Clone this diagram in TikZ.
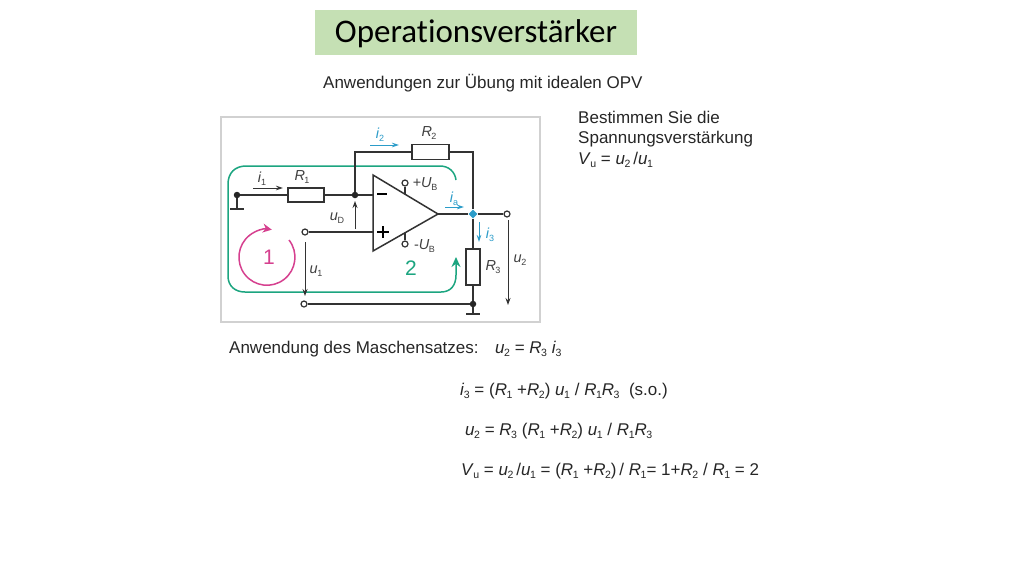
\documentclass[tikz,border=0pt]{standalone}
\usepackage{fontspec}
\setmainfont{Liberation Sans}
\newfontfamily\titlefont[Ligatures=NoCommon]{Carlito}
\usetikzlibrary{arrows.meta,shapes.geometric}
\definecolor{titlegreen}{HTML}{C5E0B4}
\definecolor{loopgreen}{HTML}{1CA580}
\definecolor{looppink}{HTML}{D6408F}
\definecolor{currblue}{HTML}{2B9CC9}
\definecolor{wiregray}{HTML}{333333}
\newcommand{\sym}[2]{\textit{#1}\kern-0.5pt\raisebox{-0.2em}{\scalebox{0.62}{#2}}}
\newcommand{\tight}{\spaceskip=0.28em\relax}
\tikzset{
	wire/.style={line width=1.5pt, draw=wiregray},
	dotnode/.style={circle, fill=black!85, inner sep=0pt, minimum size=6.5pt},
	opennode/.style={circle, draw=wiregray, fill=white, line width=1.2pt, inner sep=0pt, minimum size=6pt},
	resistor/.style={draw=wiregray, fill=white, line width=1.5pt, inner sep=0pt},
	volt/.style={line width=1pt, draw=wiregray, -{Stealth[length=7pt,width=5pt]}},
	curr/.style={line width=1pt, draw=wiregray, -{Stealth[length=7pt,width=4.5pt]}},
	bluecurr/.style={line width=1pt, draw=currblue, -{Stealth[length=7pt,width=4.5pt]}},
	lab/.style={inner sep=0pt, anchor=center, text=black!75, font=\fontsize{14.5}{16}\selectfont},
	bluelab/.style={lab, text=currblue},
	txt/.style={inner sep=0pt, anchor=base west, text=black!85, font=\fontsize{17}{20}\selectfont},
	eqn/.style={txt, execute at begin node=\tight}
}
\begin{document}
\begin{tikzpicture}[x=1pt,y=-1pt]
	\useasboundingbox (0,0) rectangle (1024,576);
	% title and panel
	\node[fill=titlegreen, minimum width=322pt, minimum height=45pt, inner sep=0pt] (title) at (476,32.5) {};
	\node[inner sep=0pt, anchor=base, font=\titlefont\fontsize{33}{38}\selectfont] (titletxt) at (476,42) {Operationsverstärker};
	\draw[draw=black!18, line width=2pt, fill=white] (221,117) rectangle (540,322);
	\node[txt] (sub) at (323,88) {Anwendungen zur Übung mit idealen OPV};
	\node[txt] (task1) at (578,123) {Bestimmen Sie die};
	\node[txt] (task2) at (578,143) {Spannungsverstärkung};
	\node[eqn] (task3) at (578,164) {\sym{V}{u} = \sym{u}{2}\,/\sym{u}{1}};

	% green mesh
	\draw[loopgreen, line width=1.5pt, -{Stealth[length=10pt,width=9pt]}] (456,180) .. controls (455,172) and (449,166) .. (440,166) -- (246,166) .. controls (235,166) and (228,173) .. (228,184) -- (228,276) .. controls (228,286) and (235,292) .. (245,292) -- (441,292) .. controls (451,292) and (456,285) .. (456,275) -- (456,257);

	% op amp
	\coordinate (optop) at (373,175);
	\coordinate (opbot) at (373,251);
	\coordinate (optip) at (438,214);
	\coordinate (ubpstem) at (405,194);
	\coordinate (ubmstem) at (405,233);
	\coordinate (inm) at (373,195);
	\coordinate (inp) at (373,232);
	\draw[wire, line join=miter] (optop) -- (optip) -- (opbot) -- cycle;
	\node[opennode] (ubp) at (405,183) {};
	\node[opennode] (ubm) at (405,244) {};
	\draw[wire] (ubp) -- (ubpstem);
	\draw[wire] (ubm) -- (ubmstem);
	\draw[line width=1.5pt] (377,194) -- (387,194);
	\draw[line width=1.5pt] (377,232) -- (389,232) (383,226) -- (383,238);

	% nodes
	\node[dotnode] (gl) at (237,195) {};
	\node[dotnode] (jm) at (355,195) {};
	\node[dotnode, fill=currblue, shape=diamond, minimum size=9pt] (jo) at (473,214) {};
	\node[dotnode] (jb) at (473,304) {};
	\node[opennode] (out) at (507,214) {};
	\node[opennode] (inpt) at (305,232) {};
	\node[opennode] (inb) at (304,304) {};
	\node[resistor, minimum width=36pt, minimum height=14pt] (r1) at (306,195) {};
	\node[resistor, minimum width=37pt, minimum height=15pt] (r2) at (430.5,152) {};
	\node[resistor, minimum width=14pt, minimum height=36pt] (r3) at (473,267) {};
	\coordinate (gbl) at (237,209);
	\coordinate (gbr) at (473,314);
	\coordinate (fbl) at (355,152);
	\coordinate (fbr) at (473,152);

	% wires
	\draw[wire] (gl) -- (r1);
	\draw[wire] (r1) -- (jm);
	\draw[wire] (jm) -- (inm);
	\draw[wire] (jm) -- (fbl) -- (r2);
	\draw[wire] (r2) -- (fbr) -- (jo);
	\draw[wire] (optip) -- (jo);
	\draw[wire] (jo) -- (out);
	\draw[wire] (jo) -- (r3);
	\draw[wire] (r3) -- (jb);
	\draw[wire] (inpt) -- (inp);
	\draw[wire] (inb) -- (jb);
	\draw[wire] (gl) -- (gbl);
	\draw[wire] (jb) -- (gbr);
	\draw[wire] (230,209) -- (244,209);
	\draw[wire] (466,314) -- (480,314);

	% arrows
	\draw[curr] (253,188) -- (283,188);
	\draw[bluecurr] (370,145) -- (399,145);
	\draw[bluecurr] (445,207) -- (464,207);
	\draw[bluecurr] (479,222) -- (479,242);
	\draw[volt] (355,229) -- (355,201);
	\draw[volt] (305,242) -- (305,296);
	\draw[volt] (508,220) -- (508,305);

	% pink mesh
	\draw[looppink, line width=1.5pt, -{Stealth[length=9pt,width=9pt]}] (289,240) arc[start angle=38, end angle=-280, radius=28pt];

	% labels
	\node[lab] (li1) at (262,179) {\sym{i}{1}};
	\node[lab] (lr1) at (302,177) {\sym{R}{1}};
	\node[lab] (lr2) at (429,133) {\sym{R}{2}};
	\node[lab] (lr3) at (493,267) {\sym{R}{3}};
	\node[bluelab] (li2) at (380,135) {\sym{i}{2}};
	\node[bluelab] (lia) at (454,199) {\sym{i}{a}};
	\node[bluelab] (li3) at (490,235) {\sym{i}{3}};
	\node[lab] (lud) at (337,218) {\sym{u}{D}};
	\node[lab] (lu1) at (316,271) {\sym{u}{1}};
	\node[lab] (lu2) at (520,260) {\sym{u}{2}};
	\node[lab] (lubp) at (425,184) {+\sym{U}{B}};
	\node[lab] (lubm) at (424.5,246) {-\sym{U}{B}};
	\node[lab, text=looppink, font=\fontsize{21}{22}\selectfont] (one) at (269,257) {1};
	\node[lab, text=loopgreen, font=\fontsize{21}{22}\selectfont] (two) at (411,268) {2};

	% equations
	\node[txt] (eq0) at (229,353) {Anwendung des Maschensatzes:};
	\node[eqn] (eq0b) at (495,353) {\sym{u}{2} = \sym{R}{3} \sym{i}{3}};
	\node[eqn] (eq1) at (460,395) {\sym{i}{3} = (\sym{R}{1} +\sym{R}{2}) \sym{u}{1} / \sym{R}{1}\sym{R}{3}\ \ (s.o.)};
	\node[eqn] (eq2) at (465,435) {\sym{u}{2} = \sym{R}{3} (\sym{R}{1} +\sym{R}{2}) \sym{u}{1} / \sym{R}{1}\sym{R}{3}};
	\node[eqn] (eq3) at (461,475) {\sym{V}{u} = \sym{u}{2}\,/\sym{u}{1} = (\sym{R}{1} +\sym{R}{2})\,/ \sym{R}{1}= 1+\sym{R}{2} / \sym{R}{1} = 2};
\end{tikzpicture}
\end{document}
